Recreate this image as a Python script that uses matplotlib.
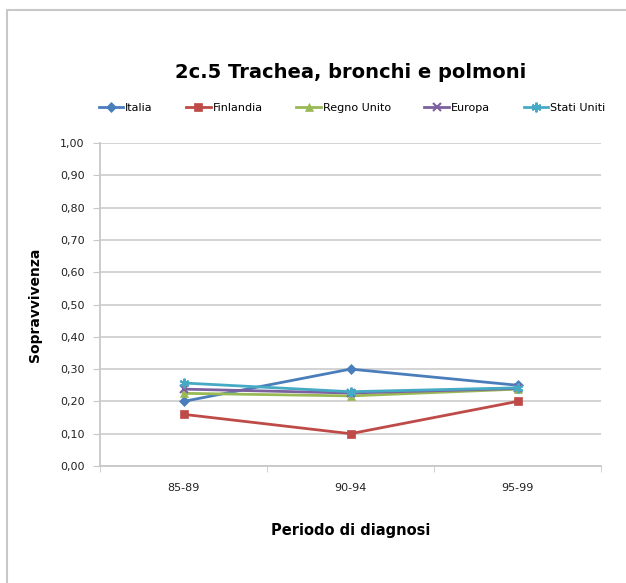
import matplotlib
matplotlib.use("Agg")
import matplotlib.pyplot as plt
from matplotlib.patches import Rectangle

periods = ["85-89", "90-94", "95-99"]
italia = [0.20, 0.30, 0.25]
finlandia = [0.16, 0.10, 0.20]
regno_unito = [0.225, 0.217, 0.238]
europa = [0.238, 0.226, 0.240]
stati_uniti = [0.257, 0.230, 0.242]
yticks = [0.0, 0.1, 0.2, 0.3, 0.4, 0.5, 0.6, 0.7, 0.8, 0.9, 1.0]

series = [
    ("Italia", italia, "#4A7EBB", "D", 5),
    ("Finlandia", finlandia, "#BE4B48", "s", 6),
    ("Regno Unito", regno_unito, "#98B954", "^", 6),
    ("Europa", europa, "#7D60A0", "x", 6),
    ("Stati Uniti", stati_uniti, "#46AAC5", (6, 2, 0), 7),
]

W, H = 626, 583
fig = plt.figure(figsize=(W / 100, H / 100), dpi=100)
fig.patch.set_facecolor("white")
fig.patches.append(Rectangle((7 / W, -0.5), 2.0, 1.5 - 10 / H, transform=fig.transFigure,
                             fill=False, edgecolor="#C8C8C8", linewidth=1.5))

ax = fig.add_axes([100 / W, 1 - 466 / H, 501 / W, 323 / H])
x = list(range(len(periods)))
for name, vals, col, mk, ms in series:
    ax.plot(x, vals, color=col, marker=mk, markersize=ms, linewidth=2.0,
            markeredgewidth=1.5 if mk in ("x",) or isinstance(mk, tuple) else 0.5,
            markeredgecolor=col, label=name)

ax.set_xlim(-0.5, 2.5)
ax.set_ylim(0, 1.0)
ax.set_xticks(x)
ax.set_xticklabels(periods, fontsize=8, color="#222222")
ax.set_yticks(yticks)
ax.set_yticklabels([f"{v:.2f}".replace(".", ",") for v in yticks], fontsize=8, color="#222222")
ax.grid(axis="y", color="#D0D0D0", linewidth=1.3)
ax.set_axisbelow(True)
for s in ("top", "right"):
    ax.spines[s].set_visible(False)
for s in ("left", "bottom"):
    ax.spines[s].set_color("#C8C8C8")
    ax.spines[s].set_linewidth(1.3)
ax.tick_params(axis="y", length=5, color="#C8C8C8", pad=6)
ax.tick_params(axis="x", length=0, pad=12)
ax.set_xticks([-0.5, 0.5, 1.5, 2.5], minor=True)
ax.tick_params(axis="x", which="minor", length=4, color="#C8C8C8")

ax.set_ylabel("Sopravvivenza", fontsize=10, fontweight="bold", labelpad=13)
ax.set_xlabel("Periodo di diagnosi", fontsize=10.5, fontweight="bold", labelpad=22)
fig.text(351 / W, 1 - 73 / H, "2c.5 Trachea, bronchi e polmoni", ha="center", va="center",
         fontsize=14, fontweight="bold")

leg = fig.legend(loc="center", bbox_to_anchor=(352 / W, 1 - 108 / H), ncol=5, frameon=False,
                 fontsize=8, handlelength=2.2, handletextpad=0.2, columnspacing=3.0)

fig.savefig("out.png", dpi=100)
